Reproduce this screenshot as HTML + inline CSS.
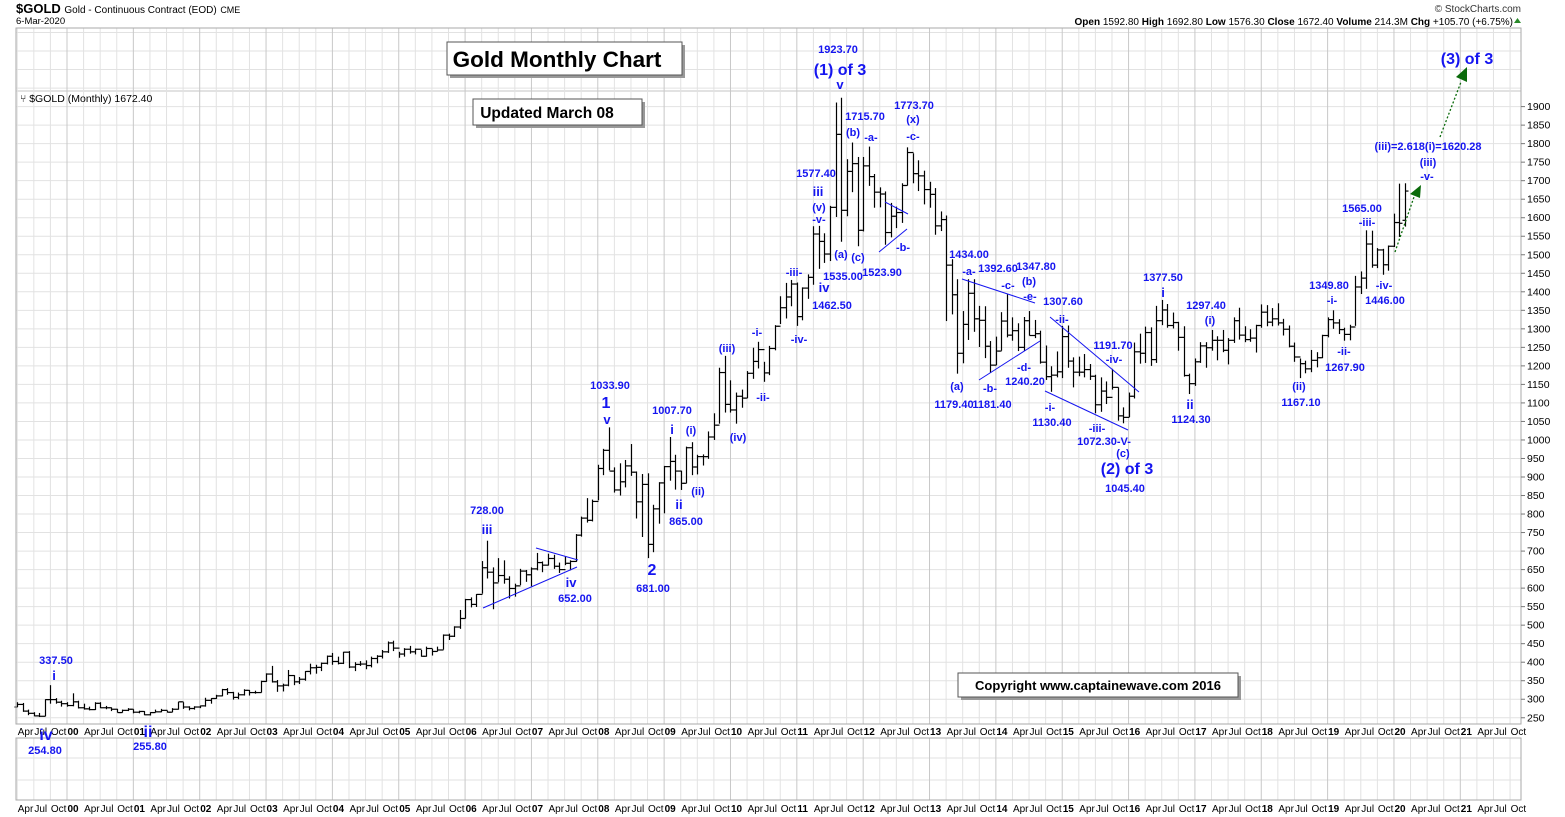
<!DOCTYPE html>
<html><head><meta charset="utf-8"><title>Gold Monthly Chart</title>
<style>
html,body{margin:0;padding:0;background:#fff;}
svg{display:block;font-family:"Liberation Sans",Arial,sans-serif;}
.lab{fill:#1515f0;font-weight:bold;font-size:11px;text-anchor:middle;}
.big{fill:#1515f0;font-weight:bold;font-size:16px;text-anchor:middle;}
.wl{fill:#1515f0;font-weight:bold;font-size:13px;text-anchor:middle;}
.ax{font-size:10px;fill:#000;}
.ay{font-size:10.5px;fill:#000;}
</style></head>
<body>
<svg id="chart" width="1565" height="817" viewBox="0 0 1565 817" xmlns="http://www.w3.org/2000/svg">
<rect x="0" y="0" width="1565" height="817" fill="#fff"/>
<g id="grid"></g>
<g id="bars"></g>
<g id="axes"></g>

<text x="16" y="13" font-size="13" font-weight="bold">$GOLD <tspan font-size="10" font-weight="normal">Gold - Continuous Contract (EOD)</tspan> <tspan font-size="9" font-weight="normal">CME</tspan></text>
<text x="16" y="24" font-size="9.5">6-Mar-2020</text>
<text x="1521" y="12" font-size="10" text-anchor="end" fill="#333">© StockCharts.com</text>
<text x="1513" y="25" font-size="10" text-anchor="end"><tspan font-weight="bold">Open</tspan> 1592.80 <tspan font-weight="bold">High</tspan> 1692.80 <tspan font-weight="bold">Low</tspan> 1576.30 <tspan font-weight="bold">Close</tspan> 1672.40 <tspan font-weight="bold">Volume</tspan> 214.3M <tspan font-weight="bold">Chg</tspan> +105.70 (+6.75%)</text>
<polygon points="1514,23 1521,23 1517.5,18" fill="#2a8a2a"/>
<text x="20" y="102" font-size="10.5">⑂ $GOLD (Monthly) 1672.40</text>

<g>
<rect x="450" y="45" width="235" height="33" fill="#999"/>
<rect x="447" y="42" width="235" height="33" fill="#fff" stroke="#555"/>
<text x="557" y="67" font-size="22.5" font-weight="bold" text-anchor="middle">Gold Monthly Chart</text>
</g>
<g>
<rect x="476" y="102" width="169" height="26" fill="#999"/>
<rect x="473" y="99" width="169" height="26" fill="#fff" stroke="#555"/>
<text x="547" y="118" font-size="15.5" font-weight="bold" text-anchor="middle">Updated March 08</text>
</g>
<g>
<rect x="961" y="676" width="280" height="24" fill="#999"/>
<rect x="958" y="673" width="280" height="24" fill="#fff" stroke="#555"/>
<text x="1098" y="690" font-size="13" font-weight="bold" text-anchor="middle">Copyright   www.captainewave.com 2016</text>
</g>

<g stroke="#1515f0" stroke-width="1">
<line x1="536" y1="548" x2="578" y2="560"/><line x1="483" y1="608" x2="577" y2="567"/>
<line x1="885" y1="202" x2="908" y2="214"/><line x1="879" y1="252" x2="907" y2="229"/>
<line x1="962" y1="279" x2="1035" y2="303"/><line x1="979" y1="380" x2="1040" y2="341"/>
<line x1="1050" y1="317" x2="1139" y2="392"/><line x1="1045" y1="391" x2="1128" y2="430"/>
</g>
<g>
<line x1="1395" y1="252" x2="1414" y2="197" stroke="#0a6a0a" stroke-width="1.3" stroke-dasharray="2,2"/>
<polygon points="1421,185 1410,194 1420,198" fill="#0a6a0a"/>
<line x1="1440" y1="137" x2="1461" y2="82" stroke="#0a6a0a" stroke-width="1.3" stroke-dasharray="2,2"/>
<polygon points="1467,67 1456,77 1467,82" fill="#0a6a0a"/>
</g>

<g>
<text class="lab" x="56" y="664">337.50</text><text class="wl" x="54" y="680">i</text>
<text class="big" x="46" y="740">iv</text><text class="lab" x="45" y="754">254.80</text>
<text class="big" x="148" y="737">ii</text><text class="lab" x="150" y="750">255.80</text>
<text class="lab" x="487" y="514">728.00</text><text class="wl" x="487" y="534">iii</text>
<text class="wl" x="571" y="587">iv</text><text class="lab" x="575" y="602">652.00</text>
<text class="lab" x="610" y="389">1033.90</text><text class="big" x="606" y="408">1</text><text class="wl" x="607" y="424">v</text>
<text class="big" x="652" y="575">2</text><text class="lab" x="653" y="592">681.00</text>
<text class="lab" x="672" y="414">1007.70</text><text class="wl" x="672" y="434">i</text><text class="lab" x="691" y="434">(i)</text>
<text class="wl" x="679" y="509">ii</text><text class="lab" x="686" y="525">865.00</text><text class="lab" x="698" y="495">(ii)</text>
<text class="lab" x="727" y="352">(iii)</text><text class="lab" x="738" y="441">(iv)</text>
<text class="lab" x="757" y="336">-i-</text><text class="lab" x="763" y="401">-ii-</text>
<text class="lab" x="794" y="276">-iii-</text><text class="lab" x="799" y="343">-iv-</text>
<text class="lab" x="816" y="177">1577.40</text><text class="wl" x="818" y="196">iii</text>
<text class="lab" x="819" y="211">(v)</text><text class="lab" x="819" y="223">-v-</text>
<text class="wl" x="824" y="292">iv</text><text class="lab" x="832" y="309">1462.50</text>
<text class="lab" x="843" y="280">1535.00</text><text class="lab" x="841" y="258">(a)</text><text class="lab" x="858" y="261">(c)</text><text class="lab" x="882" y="276">1523.90</text>
<text class="lab" x="838" y="53">1923.70</text><text class="big" x="840" y="75">(1) of 3</text><text class="wl" x="840" y="89">v</text>
<text class="lab" x="865" y="120">1715.70</text><text class="lab" x="853" y="136">(b)</text><text class="lab" x="871" y="141">-a-</text>
<text class="lab" x="914" y="109">1773.70</text><text class="lab" x="913" y="123">(x)</text><text class="lab" x="913" y="140">-c-</text>
<text class="lab" x="903" y="251">-b-</text>
<text class="lab" x="969" y="258">1434.00</text><text class="lab" x="969" y="275">-a-</text><text class="lab" x="998" y="272">1392.60</text>
<text class="lab" x="1036" y="270">1347.80</text><text class="lab" x="1008" y="289">-c-</text><text class="lab" x="1029" y="285">(b)</text>
<text class="lab" x="1030" y="300">-e-</text><text class="lab" x="1063" y="305">1307.60</text><text class="lab" x="1062" y="323">-ii-</text>
<text class="lab" x="957" y="390">(a)</text><text class="lab" x="954" y="408">1179.40</text>
<text class="lab" x="990" y="392">-b-</text><text class="lab" x="992" y="408">1181.40</text>
<text class="lab" x="1024" y="371">-d-</text><text class="lab" x="1025" y="385">1240.20</text>
<text class="lab" x="1050" y="411">-i-</text><text class="lab" x="1052" y="426">1130.40</text>
<text class="lab" x="1113" y="349">1191.70</text><text class="lab" x="1114" y="363">-iv-</text>
<text class="lab" x="1097" y="432">-iii-</text><text class="lab" x="1104" y="445">1072.30-V-</text>
<text class="lab" x="1123" y="457">(c)</text><text class="big" x="1127" y="474">(2) of 3</text><text class="lab" x="1125" y="492">1045.40</text>
<text class="lab" x="1163" y="281">1377.50</text><text class="wl" x="1163" y="297">i</text>
<text class="wl" x="1190" y="409">ii</text><text class="lab" x="1191" y="423">1124.30</text>
<text class="lab" x="1206" y="309">1297.40</text><text class="lab" x="1210" y="324">(i)</text>
<text class="lab" x="1299" y="390">(ii)</text><text class="lab" x="1301" y="406">1167.10</text>
<text class="lab" x="1329" y="289">1349.80</text><text class="lab" x="1332" y="304">-i-</text>
<text class="lab" x="1344" y="355">-ii-</text><text class="lab" x="1345" y="371">1267.90</text>
<text class="lab" x="1362" y="212">1565.00</text><text class="lab" x="1367" y="226">-iii-</text>
<text class="lab" x="1384" y="289">-iv-</text><text class="lab" x="1385" y="304">1446.00</text>
<text class="lab" x="1428" y="150">(iii)=2.618(i)=1620.28</text>
<text class="lab" x="1428" y="166">(iii)</text><text class="lab" x="1427" y="180">-v-</text>
<text class="big" x="1467" y="64">(3) of 3</text>
</g>

<script>
// Monthly gold bars, Apr 1999 .. Mar 2020
const startMonth = 3; // months since Jan 1999 of first bar (Apr 1999)
const closes = [
286,268,262,255,254,299,299,292,288,
283,293,277,274,272,289,277,277,273,264,270,273,
265,267,258,264,266,270,265,273,293,279,275,279,
282,297,302,309,326,318,305,312,324,318,318,348,
368,347,336,338,364,347,354,375,385,386,397,416,
402,397,427,387,394,395,391,410,416,428,452,438,
422,435,428,435,416,437,429,433,473,470,495,518,
569,556,583,655,643,614,634,624,599,606,646,636,
652,669,662,680,659,650,667,672,743,789,783,834,
923,972,916,865,887,930,913,833,880,718,814,884,
928,942,916,883,979,927,955,955,1008,1040,1182,1096,
1081,1118,1113,1180,1212,1244,1181,1247,1307,1357,1386,1421,
1333,1410,1439,1556,1536,1502,1628,1825,1620,1725,1746,1566,
1740,1711,1669,1664,1560,1604,1614,1687,1776,1719,1713,1676,
1663,1578,1595,1472,1392,1234,1312,1396,1327,1323,1253,1202,
1240,1321,1283,1295,1250,1322,1282,1287,1210,1171,1175,1184,
1279,1213,1183,1183,1190,1172,1095,1132,1115,1142,1065,1061,
1118,1238,1234,1290,1217,1322,1351,1309,1317,1277,1174,1152,
1211,1254,1249,1269,1269,1242,1269,1322,1283,1271,1275,1309,
1345,1318,1327,1316,1299,1253,1224,1206,1192,1215,1222,1282,
1325,1316,1298,1285,1305,1413,1437,1529,1472,1513,1473,1523,
1587,1585,1672];
const highs = [
292,290,272,265,263,300,338,303,296,
292,316,296,288,280,292,292,282,278,274,272,276,
273,269,268,265,272,274,269,276,293,292,281,281,
283,304,303,312,328,330,320,318,327,325,323,350,
370,390,352,342,379,365,360,376,396,393,399,418,
425,415,428,430,400,403,405,415,419,433,456,458,
428,438,444,437,433,442,436,442,475,477,497,541,
571,575,584,673,728,656,681,675,632,612,652,649,
656,695,672,693,690,669,686,675,746,793,843,839,
933,976,1034,926,937,946,989,915,908,910,825,886,
930,1008,960,917,982,994,960,961,1023,1072,1195,1227,
1161,1128,1136,1186,1249,1265,1211,1254,1310,1388,1424,1432,
1425,1412,1447,1577,1578,1558,1632,1911,1924,1758,1803,1764,
1764,1792,1718,1682,1671,1640,1630,1693,1790,1774,1755,1727,
1697,1680,1617,1606,1488,1434,1348,1434,1434,1362,1361,1267,
1279,1345,1393,1331,1315,1332,1348,1324,1295,1255,1199,1239,
1308,1309,1223,1225,1232,1205,1176,1169,1158,1192,1142,1088,
1128,1263,1287,1306,1304,1362,1378,1367,1344,1319,1307,1179,
1220,1264,1264,1297,1280,1297,1275,1331,1357,1307,1299,1311,
1366,1364,1356,1369,1327,1309,1263,1220,1214,1243,1237,1284,
1331,1350,1326,1303,1311,1443,1455,1566,1565,1518,1516,1525,
1611,1692,1693];
const lows = [
279,266,257,254,252,254,288,288,280,
280,281,275,272,270,271,276,273,268,264,264,268,
262,262,257,256,264,265,264,265,272,274,270,272,
276,280,288,301,308,312,299,300,310,310,315,318,
347,345,320,321,335,338,341,350,367,369,376,394,
393,394,395,384,376,390,381,386,397,410,425,430,
412,415,423,421,415,415,418,429,434,460,468,490,
518,548,549,585,626,543,616,612,572,577,608,617,
605,648,643,661,652,641,662,648,671,739,777,780,
837,905,918,858,850,872,903,788,738,681,697,774,
802,890,866,865,883,905,907,931,949,1000,1044,1074,
1074,1044,1087,1113,1165,1193,1157,1175,1242,1313,1328,1361,
1308,1323,1381,1419,1462,1478,1483,1602,1535,1604,1669,1523,
1563,1686,1627,1628,1527,1547,1572,1586,1687,1693,1672,1636,
1627,1554,1564,1321,1339,1179,1207,1270,1292,1251,1221,1181,
1202,1241,1277,1268,1240,1240,1282,1275,1206,1162,1130,1169,
1167,1195,1142,1172,1169,1162,1072,1076,1097,1136,1052,1045,
1062,1112,1206,1208,1200,1208,1310,1303,1301,1241,1171,1124,
1146,1208,1195,1241,1215,1237,1204,1262,1271,1264,1265,1236,
1303,1307,1307,1309,1282,1250,1211,1167,1180,1183,1196,1221,
1277,1300,1286,1268,1269,1308,1394,1408,1465,1464,1446,1457,
1521,1548,1576];
const opens = [
279,286,268,262,255,254,299,299,292,
288,283,293,277,274,272,289,277,277,273,264,270,
273,265,267,258,264,266,270,265,273,293,279,275,
279,282,297,302,309,326,318,305,312,324,318,318,
348,368,347,336,338,364,347,354,375,385,386,397,
416,402,397,427,387,394,395,391,410,416,428,452,
438,422,435,428,435,416,437,429,433,473,470,495,
518,569,556,583,655,643,614,634,624,599,606,646,
636,652,669,662,680,659,650,667,672,743,789,783,
834,923,972,916,865,887,930,913,833,880,718,814,
884,928,942,916,883,979,927,955,955,1008,1040,1182,
1096,1081,1118,1113,1180,1212,1244,1181,1247,1307,1357,1386,
1421,1333,1410,1439,1556,1536,1502,1628,1825,1620,1725,1746,
1566,1740,1711,1669,1664,1560,1604,1614,1687,1776,1719,1713,
1676,1663,1578,1595,1472,1392,1234,1312,1396,1327,1323,1253,
1202,1240,1321,1283,1295,1250,1322,1282,1287,1210,1171,1175,
1184,1279,1213,1183,1183,1190,1172,1095,1132,1115,1142,1065,
1061,1118,1238,1234,1290,1217,1322,1351,1309,1317,1277,1174,
1152,1211,1254,1249,1269,1269,1242,1269,1322,1283,1271,1275,
1309,1345,1318,1327,1316,1299,1253,1224,1206,1192,1215,1222,
1282,1325,1316,1298,1285,1305,1413,1437,1529,1472,1513,1473,
1523,1587,1593];
const yTicks = [250,300,350,400,450,500,550,600,650,700,750,800,850,900,950,1000,1050,1100,1150,1200,1250,1300,1350,1400,1450,1500,1550,1600,1650,1700,1750,1800,1850,1900];
const quarterNames = ["Apr","Jul","Oct"];
const yearLabels = ["99","00","01","02","03","04","05","06","07","08","09","10","11","12","13","14","15","16","17","18","19","20","21"];

const NS = "http://www.w3.org/2000/svg";
const PL = 16, PR = 1521, PT = 28, PB = 724;
function xOf(m){ return 67 + (m - 12) * 5.529; }
function yOf(v){ return 106.6 + (1900 - v) * 0.3704; }
function mk(tag, attrs, parent){ const e = document.createElementNS(NS, tag); for (const k in attrs) e.setAttribute(k, attrs[k]); parent.appendChild(e); return e; }

const grid = document.getElementById('grid');
const axes = document.getElementById('axes');
const bars = document.getElementById('bars');

const p1 = mk('rect', {x:PL, y:PT, width:PR-PL, height:PB-PT, fill:'none', stroke:'#aaa'}, axes);


const p2 = mk('rect', {x:PL, y:738, width:PR-PL, height:62, fill:'none', stroke:'#aaa'}, axes);



for (let v = 250; v <= 2100; v += 50) {
  const y = yOf(v);
  if (y < PT || y > PB) continue;
  const l = mk('line', {x1:PL, x2:PR, y1:y, y2:y, stroke:'#e2e2e2', 'stroke-width':1}, grid);
  
  
}
const sep = mk('line', {x1:PL, x2:PR, y1:91, y2:91, stroke:'#c4c4c4'}, grid);


[758, 780].forEach(function(y){
  const l = mk('line', {x1:PL, x2:PR, y1:y, y2:y, stroke:'#e2e2e2'}, grid);
  
  
});

for (let yi = 0; yi < yearLabels.length; yi++) {
  for (let q = 0; q < 4; q++) {
    const m = yi * 12 + q * 3;
    if (m < 3 || m > 273) continue;
    const x = xOf(m);
    const isYear = q === 0;
    [[PT, PB], [738, 800]].forEach(function(r){
      const l = mk('line', {x1:x, x2:x, y1:r[0], y2:r[1], stroke: isYear ? '#c8c8c8' : '#e2e2e2'}, grid);
      
      
    });
    const txt = isYear ? yearLabels[yi] : quarterNames[q - 1];
    [735, 812].forEach(function(ty){
      const t = mk('text', {x:x + 0.5, y:ty, class:'ax', 'font-weight': isYear ? 'bold' : 'normal'}, axes);
      
      
      t.textContent = txt;
    });
  }
}

yTicks.forEach(function(v){
  const y = yOf(v);
  const tk = mk('line', {x1:PR, x2:PR+4, y1:y, y2:y, stroke:'#777'}, axes);
  
  
  const t = mk('text', {x:PR+6, y:y+3.5, class:'ay'}, axes);
  
  
  t.textContent = String(v);
});

for (let i = 0; i < closes.length; i++) {
  const x = Math.round(xOf(startMonth + i)) + 0.5;
  const g = mk('g', {stroke:'#000', 'stroke-width':1.2}, bars);
  
  
  mk('line', {x1:x, x2:x, y1:yOf(highs[i]), y2:yOf(lows[i])}, g);
  mk('line', {x1:x-3, x2:x, y1:yOf(opens[i]), y2:yOf(opens[i])}, g);
  mk('line', {x1:x, x2:x+3, y1:yOf(closes[i]), y2:yOf(closes[i])}, g);
}
</script>
</svg>
</body></html>
